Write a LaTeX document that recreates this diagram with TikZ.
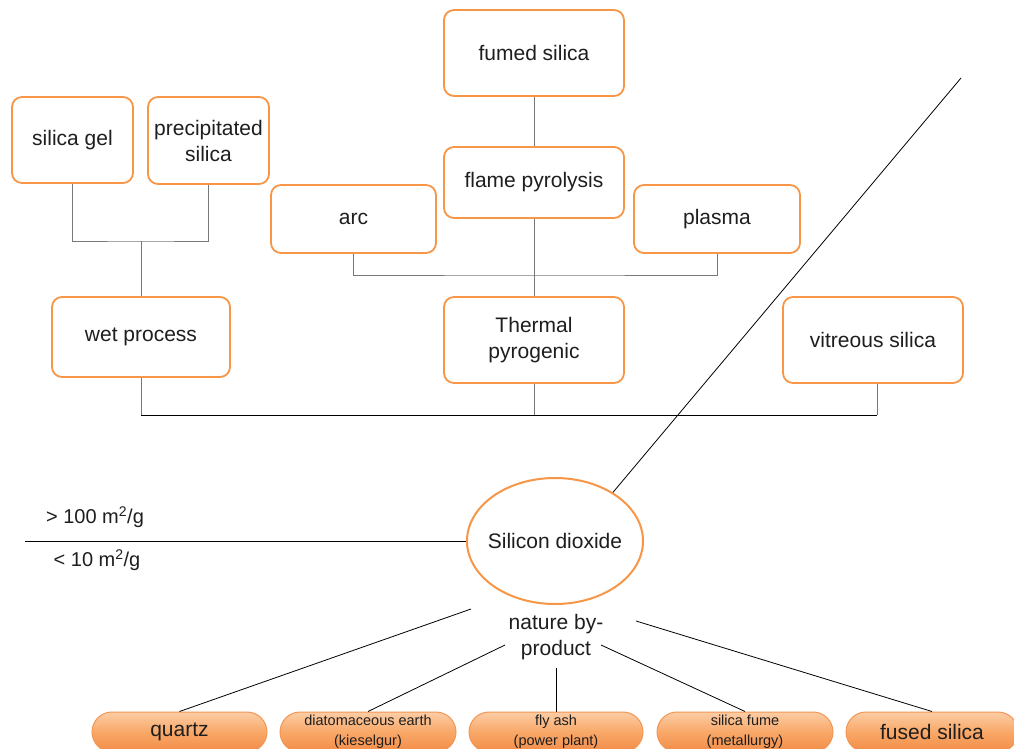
\documentclass[tikz,border=0pt]{standalone}
\usepackage{fontspec}
\setmainfont{Liberation Sans}
\usetikzlibrary{shapes.geometric,calc}
\definecolor{boxor}{RGB}{247,150,70}
\definecolor{gline}{RGB}{120,120,120}
\definecolor{txt}{RGB}{30,30,30}
\definecolor{pilltop}{RGB}{252,205,165}
\definecolor{pillmid}{RGB}{248,168,104}
\definecolor{pillbot}{RGB}{243,140,72}
\definecolor{pillborder}{RGB}{242,150,85}
\tikzset{
  bigtext/.style={font=\fontsize{21}{26}\selectfont, text=txt, align=center},
  stepbox/.style={bigtext, draw=boxor, line width=1.8pt, rounded corners=10pt, fill=white, inner sep=0pt},
  pill/.style={draw=pillborder, line width=1pt, rounded corners=20pt, top color=pilltop, bottom color=pillbot, middle color=pillmid, minimum height=40pt, inner sep=0pt, text=txt, align=center},
  pillsmall/.style={pill, font=\fontsize{14.5}{20}\selectfont},
  pillbig/.style={pill, font=\fontsize{21}{26}\selectfont},
  conn/.style={draw=gline, line width=0.9pt},
  dconn/.style={draw=black, line width=0.8pt},
}
\begin{document}
\begin{tikzpicture}[x=1pt,y=-1pt]
\fill[white] (0,0) rectangle (1014,749);
\useasboundingbox (0,0) rectangle (1014,749);

% boxes
\node[stepbox, minimum width=121pt, minimum height=86pt] (gel) at (72.5,140) {silica gel};
\node[stepbox, minimum width=121pt, minimum height=87pt] (precip) at (208.5,140.5) {precipitated\\silica};
\node[stepbox, minimum width=180pt, minimum height=86pt] (fumed) at (534,53) {fumed silica};
\node[stepbox, minimum width=180pt, minimum height=71pt] (flame) at (534,182.5) {flame pyrolysis};
\node[stepbox, minimum width=165pt, minimum height=68pt] (arc) at (353.5,219) {arc};
\node[stepbox, minimum width=166pt, minimum height=68pt] (plasma) at (717,219) {plasma};
\node[stepbox, minimum width=178pt, minimum height=80pt] (wet) at (141,337) {wet process};
\node[stepbox, minimum width=180pt, minimum height=86pt] (thermal) at (534,340) {Thermal\\pyrogenic};
\node[stepbox, minimum width=180pt, minimum height=86pt] (vit) at (873,340) {vitreous silica};

% central ellipse
\node[ellipse, draw=boxor, line width=2pt, fill=white, inner sep=0pt, minimum width=176pt, minimum height=126pt,
      label={[bigtext]center:Silicon dioxide}] (sio2) at (555,541) {};

% labels
\node[bigtext, font=\fontsize{20}{24}\selectfont] (hi) at (95,517) {> 100 m\textsuperscript{2}/g};
\node[bigtext, font=\fontsize{20}{24}\selectfont] (lo) at (97,560) {< 10 m\textsuperscript{2}/g};
\node[bigtext] (nat) at (556,637) {nature by-\\product};

% pills
\node[pillbig, minimum width=175pt] (quartz) at (179.5,732) {quartz};
\node[pillsmall, minimum width=176pt] (diat) at (368,732) {diatomaceous earth\\(kieselgur)};
\node[pillsmall, minimum width=174pt] (fly) at (556,732) {fly ash\\(power plant)};
\node[pillsmall, minimum width=176pt] (fume) at (745,732) {silica fume\\(metallurgy)};
\node[pillbig, minimum width=172pt] (fused) at (932,732) {fused silica};

% tree connectors
\coordinate (j1) at (141,241);
\draw[conn] (gel.south) |- (j1) -| (precip.south);
\draw[conn] (j1) -- (wet.north);
\draw[conn] (fumed.south) -- (flame.north);
\draw[conn] (flame.south) -- (thermal.north);
\coordinate (j2) at (534,275);
\draw[conn] (arc.south) |- (j2) -| (plasma.south);
\coordinate (j3) at (534,415);
\draw[conn] (wet.south) -- (wet.south |- j3);
\draw[conn] (thermal.south) -- (j3);
\draw[conn] (vit.south) ++(4,0) coordinate (vs) -- (vs |- j3);
\draw[dconn] (wet.south |- j3) -- (vs |- j3);

% long lines
\coordinate (T) at (961,78);
\draw[dconn] (T) -- (sio2.40);
\coordinate (L) at (25,541);
\draw[dconn] (L) -- (sio2.west);

% nature by-product connectors
\coordinate (n1) at (471,609);
\coordinate (n2) at (505,645);
\coordinate (n3) at (556,668);
\coordinate (n4) at (601,645);
\coordinate (n5) at (636,621);
\draw[dconn] (n1) -- (quartz.north);
\draw[dconn] (n2) -- (diat.north);
\draw[dconn] (n3) -- (fly.north);
\draw[dconn] (n4) -- (fume.north);
\draw[dconn] (n5) -- (fused.north);
\end{tikzpicture}
\end{document}
